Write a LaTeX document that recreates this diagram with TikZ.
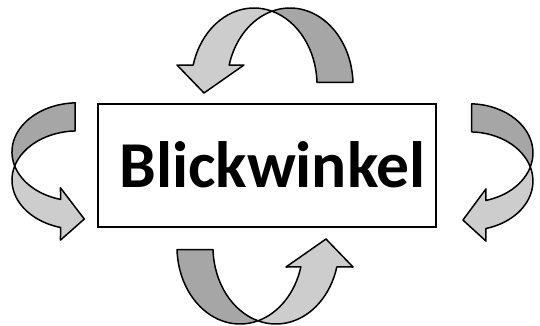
\documentclass[tikz,border=0pt]{standalone}
\usepackage{fontspec}
\setmainfont{Carlito}
\definecolor{lightband}{RGB}{205,205,205}
\definecolor{darkband}{RGB}{166,166,166}
\tikzset{
  band/.style={draw=black, line width=1.5pt, line join=round},
  lightpart/.style={band, fill=lightband},
  darkpart/.style={band, fill=darkband},
  framebox/.style={draw=black, line width=1.8pt, inner sep=0pt, minimum width=338pt, minimum height=123pt},
  labeltext/.style={font=\fontsize{65.5}{78}\selectfont\bfseries, anchor=base, inner sep=0pt},
}
\newcommand\drawtwistarrow{%
  \path[darkpart] (0,73.8) arc[start angle=106.6, end angle=2, x radius=63pt, y radius=77pt]
     -- (44.96,2.69) arc[start angle=2, end angle=73.4, x radius=63pt, y radius=77pt] -- cycle;
  \path[lightpart] (-78.85,19.93) -- (-95,20) -- (-68,-8) -- (-28,20) -- (-42.85,19.93)
     arc[start angle=165, end angle=106.6, x radius=63pt, y radius=77pt]
     arc[start angle=73.4, end angle=165, x radius=63pt, y radius=77pt] -- cycle;
}
\begin{document}
\begin{tikzpicture}[x=1pt,y=1pt]
\useasboundingbox (0,0) rectangle (540,325);
% top arrow
\begin{scope}[cm={1,0,0,1,(272pt,240pt)}]
  \drawtwistarrow
\end{scope}
% bottom arrow
\begin{scope}[cm={-1,0,0,-1,(258pt,78pt)}]
  \drawtwistarrow
\end{scope}
% left arrow
\begin{scope}[cm={0,0.78,-0.851,0,(77.5pt,159pt)}]
  \drawtwistarrow
\end{scope}
% right arrow
\begin{scope}[cm={0,0.78,0.824,0,(469.5pt,158pt)}]
  \drawtwistarrow
\end{scope}
\node[framebox] (box) at (267,159.5) {};
\node[labeltext] (lbl) at (272.5,137.5) {Blickwinkel};
\end{tikzpicture}
\end{document}
